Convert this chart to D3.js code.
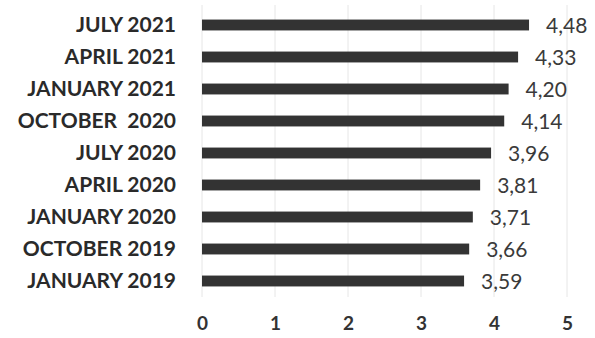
<!DOCTYPE html>
<html>
<head>
<meta charset="utf-8">
<script src="https://cdn.jsdelivr.net/npm/d3@7"></script>
<style>
  html, body { margin: 0; padding: 0; background: #fff; }
  svg { display: block; }
  .cat { font-family: Lato, sans-serif; font-weight: 700; font-size: 21px; fill: #2a2a2a; }
  .val { font-family: Lato, sans-serif; font-weight: 400; font-size: 21px; fill: #3a3a3a; }
  .tick text { font-family: Lato, sans-serif; font-weight: 700; font-size: 19px; fill: #333; }
</style>
</head>
<body>
<svg id="chart" width="595" height="338"></svg>
<script>
  // Data
  const categories = ['JULY 2021', 'APRIL 2021', 'JANUARY 2021', 'OCTOBER  2020', 'JULY 2020',
    'APRIL 2020', 'JANUARY 2020', 'OCTOBER 2019', 'JANUARY 2019']
  const values = [4.48, 4.33, 4.20, 4.14, 3.96, 3.81, 3.71, 3.66, 3.59]
  const xTicks = [0, 1, 2, 3, 4, 5]

  const plotLeft = 202
  const plotRight = 567
  const plotTop = 9
  const plotBottom = 297

  const svg = d3.select('#chart')

  const x = d3.scaleLinear().domain([0, 5]).range([plotLeft, plotRight])
  const y = d3.scaleBand()
    .domain(categories)
    .range([plotTop, plotBottom])
    .paddingInner(0.66)
    .paddingOuter(0.33)

  const fmt = v => v.toFixed(2).replace('.', ',')

  // gridlines
  svg.append('g')
    .selectAll('line')
    .data(xTicks)
    .enter()
    .append('line')
    .attr('x1', d => x(d))
    .attr('x2', d => x(d))
    .attr('y1', 5)
    .attr('y2', plotBottom)
    .attr('stroke', '#e6e6e6')
    .attr('stroke-width', 1)

  // bars
  svg.append('g')
    .selectAll('rect')
    .data(values)
    .enter()
    .append('rect')
    .attr('x', x(0))
    .attr('y', (d, i) => y(categories[i]))
    .attr('width', d => x(d) - x(0))
    .attr('height', y.bandwidth())
    .attr('fill', '#333333')

  // value labels
  svg.append('g')
    .selectAll('text')
    .data(values)
    .enter()
    .append('text')
    .attr('class', 'val')
    .attr('x', d => x(d) + 17)
    .attr('y', (d, i) => y(categories[i]) + y.bandwidth() / 2 + 1)
    .attr('dy', '0.35em')
    .text(fmt)

  // category labels
  svg.append('g')
    .selectAll('text')
    .data(categories)
    .enter()
    .append('text')
    .attr('class', 'cat')
    .attr('x', 176)
    .attr('y', d => y(d) + y.bandwidth() / 2)
    .attr('dy', '0.35em')
    .attr('text-anchor', 'end')
    .style('white-space', 'pre')
    .text(d => d)

  // x axis
  const xAxis = d3.axisBottom(x)
    .tickValues(xTicks)
    .tickSize(0)
    .tickPadding(0)
    .tickFormat(d3.format('d'))

  svg.append('g')
    .attr('transform', `translate(0, 316)`)
    .call(xAxis)
    .call(g => g.select('.domain').remove())
</script>
</body>
</html>
